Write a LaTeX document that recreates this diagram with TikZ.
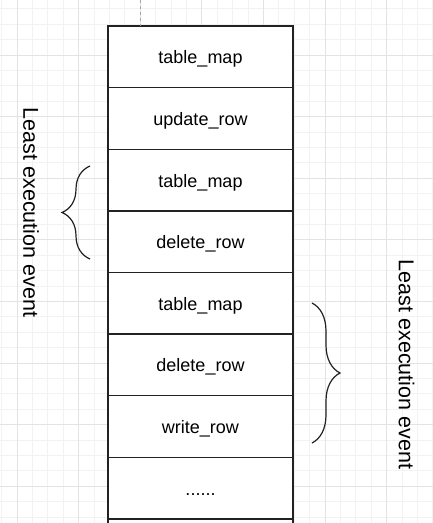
\documentclass[tikz,border=0pt]{standalone}
\usepackage{fontspec}
\setmainfont{Liberation Sans}
\usetikzlibrary{positioning,decorations.pathreplacing}
\definecolor{gridmajor}{HTML}{E3E3E3}
\definecolor{gridminor}{HTML}{F2F2F2}
\definecolor{boxline}{HTML}{222222}

\tikzset{
	event/.style={draw=boxline, line width=1.4pt, fill=white, minimum width=185pt,
		minimum height=61.6pt, inner sep=0pt, outer sep=0pt, text height=14pt, text depth=0pt,
		font=\fontsize{18}{20}\selectfont},
	curly/.style={draw=boxline, line width=1.2pt, decorate, decoration={brace, amplitude=28pt}},
	lbl/.style={rotate=-90, inner sep=0pt, font=\fontsize{21.5}{24}\selectfont}
}

\begin{document}
\begin{tikzpicture}[x=1pt, y=-1pt, node distance=0pt]
	\path[use as bounding box, clip] (0,0) rectangle (433,523);
	% Grid
	\foreach \x in {1.6,17,...,433} \draw[gridminor, line width=0.8pt] (\x,0) -- (\x,523);
	\foreach \y in {8.8,24.2,...,523} \draw[gridminor, line width=0.8pt] (0,\y) -- (433,\y);
	\foreach \x in {17,78.6,...,433} \draw[gridmajor, line width=1pt] (\x,0) -- (\x,523);
	\foreach \y in {55,116.6,...,523} \draw[gridmajor, line width=1pt] (0,\y) -- (433,\y);

	% Define nodes
	\node[event, anchor=north]   (tm1) at (200.5,26) {table\_map};
	\node[event, below=of tm1]   (ur)  {update\_row};
	\node[event, below=of ur]    (tm2) {table\_map};
	\node[event, below=of tm2]   (dr1) {delete\_row};
	\node[event, below=of dr1]   (tm3) {table\_map};
	\node[event, below=of tm3]   (dr2) {delete\_row};
	\node[event, below=of dr2]   (wr)  {write\_row};
	\node[event, below=of wr]    (more) {......};
	\node[event, below=of more]  (next) {};

	\coordinate (guide) at (140.2,0);
	\draw[gray!70, dashed, dash pattern=on 3pt off 3pt, line width=0.8pt] (guide) -- (guide |- tm1.north);

	% Braces
	\coordinate (lb) at (90,259);
	\coordinate (lt) at (90,166);
	\coordinate (rt) at (312,303);
	\coordinate (rb) at (312,443);
	\draw[curly] (lb) -- (lt);
	\draw[curly] (rt) -- (rb);

	\node[lbl] (least1) at (31,212.5) {Least execution event};
	\node[lbl] (least2) at (406.5,364.5) {Least execution event};
\end{tikzpicture}
\end{document}
